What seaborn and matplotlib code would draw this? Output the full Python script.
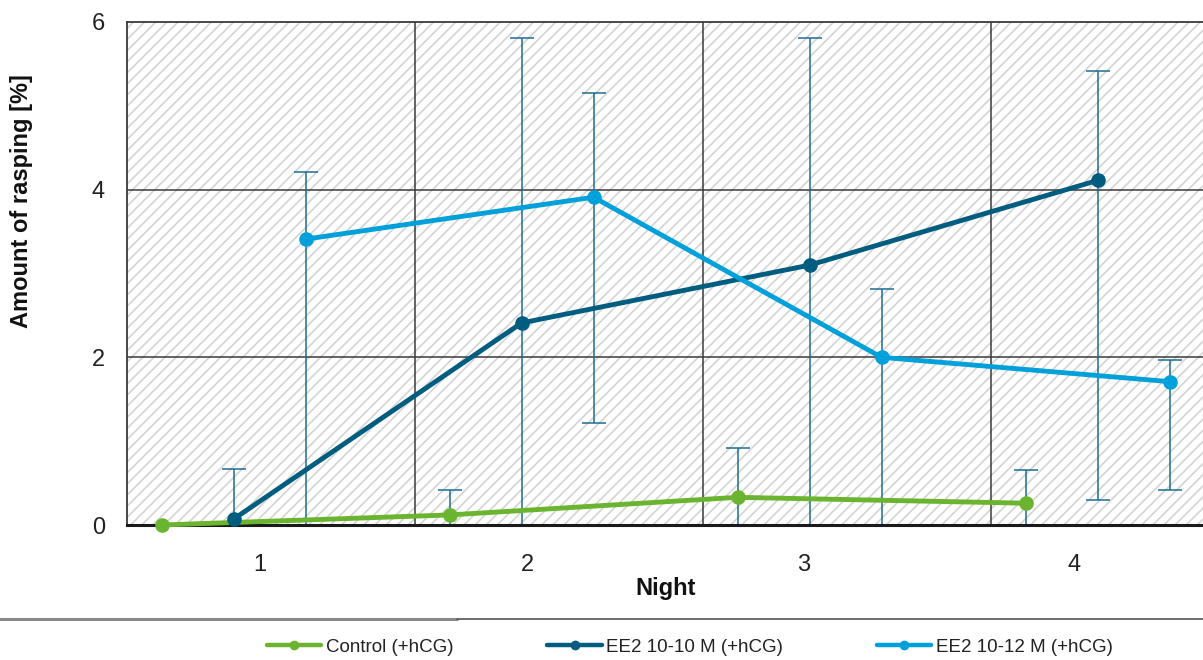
import numpy as np
import pandas as pd
import matplotlib
matplotlib.use("Agg")
import matplotlib.pyplot as plt
from matplotlib.patches import Rectangle
from matplotlib.lines import Line2D
import seaborn as sns

# ---------------- data ----------------
nights = ["1", "2", "3", "4"]
series_names = ["Control (+hCG)", "EE2 10-10 M (+hCG)", "EE2 10-12 M (+hCG)"]
control_mean = [0.00, 0.12, 0.33, 0.26]
control_err_hi = [0.00, 0.42, 0.92, 0.66]
control_err_lo = [0.00, 0.00, 0.00, 0.00]
ee2_10_mean = [0.07, 2.41, 3.10, 4.11]
ee2_10_err_hi = [0.67, 5.81, 5.81, 5.41]
ee2_10_err_lo = [0.00, 0.00, 0.00, 0.30]
ee2_12_mean = [3.41, 3.91, 2.00, 1.71]
ee2_12_err_hi = [4.21, 5.15, 2.82, 1.97]
ee2_12_err_lo = [0.00, 1.22, 0.00, 0.42]
slot_offsets = [0.12, 0.37, 0.62]       # position of each series within a night
label_positions = [0.46, 1.39, 2.35, 3.29]
y_ticks = [0, 2, 4, 6]

colors = ["#6AB42F", "#005D80", "#00A0DB"]
err_color = "#1C6E94"

# ---------------- style ----------------
sns.set_style("white")
plt.rcParams["font.family"] = ["Liberation Sans", "DejaVu Sans"]
plt.rcParams["hatch.linewidth"] = 1.2

W, H = 1203, 660
fig = plt.figure(figsize=(W / 100, H / 100), dpi=100)
ax = fig.add_axes([127 / W, 1 - 525 / H, 1076 / W, 503 / H])

means = [control_mean, ee2_10_mean, ee2_12_mean]
his = [control_err_hi, ee2_10_err_hi, ee2_12_err_hi]
los = [control_err_lo, ee2_10_err_lo, ee2_12_err_lo]

rows = []
for s, name in enumerate(series_names):
    for i in range(len(nights)):
        rows.append({"x": i + slot_offsets[s], "y": means[s][i], "series": name})
df = pd.DataFrame(rows)

# hatched background
ax.add_patch(Rectangle((0, 0), 1, 1, transform=ax.transAxes, facecolor="white",
                       edgecolor="#d4d4d4", hatch="///", linewidth=0, zorder=0))

# error bars
for s in range(len(series_names)):
    xs = np.arange(len(nights)) + slot_offsets[s]
    m = np.array(means[s])
    hi = np.array(his[s])
    lo = np.array(los[s])
    yerr = np.vstack([m - lo, hi - m])
    mask = (hi - lo) > 0
    ax.errorbar(xs[mask], m[mask], yerr=yerr[:, mask], fmt="none", ecolor=err_color,
                elinewidth=1.1, capsize=8.5, capthick=1.1, zorder=2.4)

sns.lineplot(data=df, x="x", y="y", hue="series", palette=colors, hue_order=series_names,
             marker="o", markersize=10.5, markeredgewidth=0, linewidth=3.5,
             legend=False, ax=ax, zorder=3, clip_on=False)

ax.set_xlim(0, 3.736)
ax.set_ylim(0, 6)
ax.set_yticks(y_ticks)
ax.set_yticklabels([str(v) for v in y_ticks])
ax.set_xticks(label_positions)
ax.set_xticklabels(nights)
ax.set_xticks([0, 1, 2, 3], minor=True)
ax.tick_params(axis="x", which="major", length=0, pad=21, labelsize=17, colors="#222222")
ax.tick_params(axis="x", which="minor", length=6, width=2, direction="out", color="#222222")
ax.tick_params(axis="y", length=0, pad=16, labelsize=17, colors="#222222")
ax.set_xlabel("")
ax.set_ylabel("")

# grid
for yv in [2, 4]:
    ax.axhline(yv, color="#3a3a3a", lw=1.1, zorder=1)
for xv in [1, 2, 3]:
    ax.axvline(xv, color="#3a3a3a", lw=1.1, zorder=1)

for side in ["top", "left"]:
    ax.spines[side].set_color("#3a3a3a")
    ax.spines[side].set_linewidth(1.3)
ax.spines["right"].set_visible(False)
ax.spines["bottom"].set_color("#1a1a1a")
ax.spines["bottom"].set_linewidth(2.2)

fig.text(22 / W, 1 - 201 / H, "Amount of rasping [%]", rotation=90, ha="center", va="center",
         fontsize=17, fontweight="bold", color="#111111")
fig.text(666 / W, 1 - 589 / H, "Night", ha="center", va="center",
         fontsize=17, fontweight="bold", color="#111111")

# separator line
fig.add_artist(Line2D([0, 457 / W], [1 - 619 / H] * 2, color="#8a8a8a", lw=2.2))
fig.add_artist(Line2D([457 / W, 1], [1 - 619 / H] * 2, color="#555555", lw=1.2))

handles = [Line2D([], [], color=c, lw=3.2, marker="o", markersize=7, markeredgewidth=0)
           for c in colors]
fig.legend(handles, series_names, loc="center", bbox_to_anchor=(690 / W, 1 - 647 / H),
           ncol=3, frameon=False, fontsize=13.5, handlelength=2.9, handletextpad=0.25,
           columnspacing=5.0, labelcolor="#222222")

fig.savefig("out.png", dpi=100)
